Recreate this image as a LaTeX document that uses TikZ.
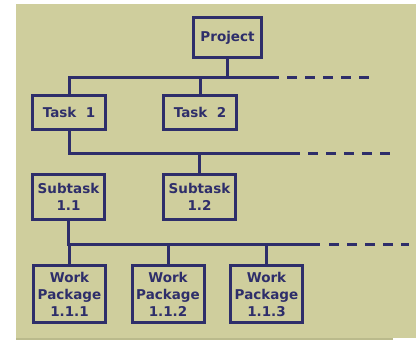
\documentclass[tikz,border=0pt]{standalone}
\usepackage{fontspec}
\setmainfont{DejaVu Sans}
\definecolor{bgk}{RGB}{207,206,157}
\definecolor{bgs}{RGB}{186,186,140}
\definecolor{navy}{RGB}{46,46,106}
\tikzset{
  box/.style={draw=navy, line width=3pt, text=navy, align=center, inner sep=0pt,
    font=\bfseries\fontsize{13.5}{17}\selectfont},
  conn/.style={draw=navy, line width=3pt},
  dconn/.style={draw=navy, line width=3pt, dash pattern=on 10pt off 8pt}
}
\begin{document}
\begin{tikzpicture}[x=1pt,y=-1pt]
\useasboundingbox (0,0) rectangle (416,340);
\fill[bgk] (16,4) rectangle (416,338);
\fill[bgs] (16,338) rectangle (393,340);
% nodes
\node[box, minimum width=68pt, minimum height=40pt] (proj) at (227.5,37.5) {Project};
\node[box, minimum width=73pt, minimum height=34pt] (t1) at (69,112.5) {Task\ \ 1};
\node[box, minimum width=73pt, minimum height=34pt] (t2) at (200,112.5) {Task\ \ 2};
\node[box, minimum width=72pt, minimum height=45pt] (s1) at (68.5,197) {Subtask\\1.1};
\node[box, minimum width=72pt, minimum height=45pt] (s2) at (199.5,197) {Subtask\\1.2};
\node[box, minimum width=72pt, minimum height=57pt] (w1) at (69.5,294) {Work\\Package\\1.1.1};
\node[box, minimum width=72pt, minimum height=57pt] (w2) at (168,294) {Work\\Package\\1.1.2};
\node[box, minimum width=72pt, minimum height=57pt] (w3) at (266.5,294) {Work\\Package\\1.1.3};
% bar coordinates
\coordinate (b1e) at (279,77);
\coordinate (b1d) at (287,77);
\coordinate (b1f) at (369,77);
\coordinate (b2e) at (300,153);
\coordinate (b2d) at (308,153);
\coordinate (b2f) at (390,153);
\coordinate (b3e) at (320,244);
\coordinate (b3d) at (329,244);
\coordinate (b3f) at (409,244);
% level 1
\draw[conn] (proj.south) -- (proj.south |- b1e);
\draw[conn] (t1.north) |- (b1e);
\draw[conn] (t2.north) -- (t2.north |- b1e);
\draw[dconn] (b1d) -- (b1f);
% level 2
\draw[conn] (t1.south) |- (b2e);
\draw[conn] (s2.north) -- (s2.north |- b2e);
\draw[dconn] (b2d) -- (b2f);
% level 3
\draw[conn] (s1.south) |- (b3e);
\draw[conn] (w1.north) -- (w1.north |- b3e);
\draw[conn] (w2.north) -- (w2.north |- b3e);
\draw[conn] (w3.north) -- (w3.north |- b3e);
\draw[dconn] (b3d) -- (b3f);
\end{tikzpicture}
\end{document}
